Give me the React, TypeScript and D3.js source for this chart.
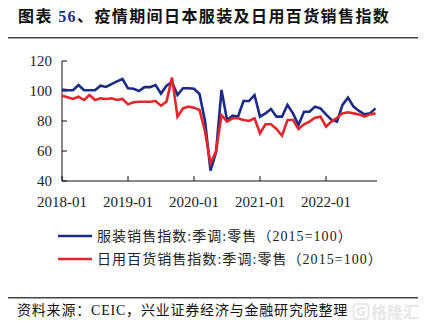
import React from "react";
import * as d3 from "d3";

const months: string[] = (() => {
  const out: string[] = [];
  for (let y = 2018; y <= 2022; y++) {
    for (let m = 1; m <= 12; m++) {
      if (y === 2022 && m > 10) break;
      out.push(`${y}-${String(m).padStart(2, "0")}`);
    }
  }
  return out;
})();

const apparel: number[] = [
  100.9, 100.5, 100.5, 104, 100.5, 100.5, 100.5, 103.5, 102.7, 104.6, 106.4, 108,
  101.8, 101.5, 100, 102.6, 102.6, 104, 98.3, 103.5, 106, 97.3, 101.8, 101.8,
  101.5, 98, 80, 47, 59, 100.7, 80.7, 83.6, 82.9, 93.3, 93.3, 97.3,
  82.9, 85.1, 88, 82.9, 82.9, 90.7, 85.1, 77.3, 86.2, 86.2, 89.6, 88.4,
  84.4, 80.7, 79.6, 90.7, 95.6, 89.6, 86.7, 84.4, 85.1, 88.4,
];

const household: number[] = [
  96.9, 95.8, 94.7, 96.2, 94, 97.3, 94, 95.1, 94.7, 95.1, 94, 94.7,
  91.1, 92.5, 92.8, 92.8, 92.8, 93.3, 90.2, 92.9, 108.9, 82.9, 88.4, 89.6,
  88.9, 87.3, 73, 51.8, 59.6, 84, 79.6, 81.8, 81.8, 80.7, 80, 81.8,
  71.8, 77.8, 77.8, 74.7, 70.2, 80.7, 80.7, 74.7, 77.8, 79.6, 82.2, 82.9,
  76.2, 79.6, 82.2, 85.1, 85.8, 85.1, 84.4, 82.9, 84.4, 85.1,
];

const yTicks: number[] = [40, 60, 80, 100, 120];
const xTickLabels: string[] = ["2018-01", "2019-01", "2020-01", "2021-01", "2022-01"];

const seriesNames: string[] = [
  "服装销售指数:季调:零售（2015=100）",
  "日用百货销售指数:季调:零售（2015=100）",
];
const seriesColors: string[] = ["#1c2b84", "#e3262c"];

const FONT = "'Liberation Serif', 'Noto Sans CJK SC', serif";

export default function App() {
  const x = d3.scaleLinear().domain([0, months.length - 1]).range([62, 375.5]);
  const y = d3.scaleLinear().domain([40, 120]).range([181, 61]);
  const line = d3
    .line<number>()
    .x((_, i) => x(i))
    .y((d) => y(d));

  const series = [apparel, household];

  return (
    <svg
      width={427}
      height={331}
      style={{ position: "absolute", left: 0, top: 0, background: "#fff" }}
      fontFamily={FONT}
    >
      <rect x={0} y={0} width={427} height={331} fill="#fff" />
      {/* Title */}
      <text x={18} y={21.5} fontSize={16} fontWeight="bold" letterSpacing={1.4} fill="#111">
        图表 <tspan fill="#1c2b84">56</tspan>、疫情期间日本服装及日用百货销售指数
      </text>
      <line x1={8} x2={418} y1={37.7} y2={37.7} stroke="#444" strokeWidth={1.4} />

      {/* Axes */}
      <line x1={62} x2={62} y1={61} y2={181} stroke="#111" strokeWidth={1} />
      <line x1={62} x2={377} y1={181} y2={181} stroke="#111" strokeWidth={1} />
      {yTicks.map((t) => (
        <g key={t}>
          <line x1={62} x2={67} y1={y(t)} y2={y(t)} stroke="#111" strokeWidth={1} />
          <text x={52} y={y(t)} dy="0.35em" textAnchor="end" fontSize={15} fill="#222">
            {t}
          </text>
        </g>
      ))}
      {xTickLabels.map((lab) => {
        const i = months.indexOf(lab);
        const px = x(i);
        return (
          <g key={lab}>
            <line x1={px} x2={px} y1={181} y2={176} stroke="#111" strokeWidth={1} />
            <text x={px} y={206.5} textAnchor="middle" fontSize={15} fill="#222">
              {lab}
            </text>
          </g>
        );
      })}

      {/* Lines */}
      {series.map((s, k) => (
        <path
          key={k}
          d={line(s) || ""}
          fill="none"
          stroke={seriesColors[k]}
          strokeWidth={2.6}
          strokeLinejoin="miter"
        />
      ))}

      {/* Legend */}
      {seriesNames.map((name, k) => {
        const ly = k === 0 ? 236 : 259;
        return (
          <g key={name}>
            <line x1={58} x2={92} y1={ly} y2={ly} stroke={seriesColors[k]} strokeWidth={2.6} />
            <text x={97} y={ly + 4.5} fontSize={14} fill="#222" letterSpacing={1.05}>
              {name}
            </text>
          </g>
        );
      })}

      {/* Footer */}
      <line x1={8} x2={418} y1={297.7} y2={297.7} stroke="#444" strokeWidth={1.4} />
      <text x={17} y={315} fontSize={14} fill="#111" letterSpacing={0.8}>
        资料来源：CEIC，兴业证券经济与金融研究院整理
      </text>
      {/* Watermark */}
      <g opacity={0.35}>
        <rect x={353.5} y={304} width={15} height={15} rx={3} fill="none" stroke="#bbb" strokeWidth={2} />
        <text x={361} y={316} textAnchor="middle" fontSize={12} fontWeight="bold" fill="#bbb" fontFamily="'DejaVu Sans', sans-serif">
          G
        </text>
        <text x={371} y={317.5} fontSize={16} fontWeight="bold" fill="#bbb" fontFamily="'Noto Sans CJK SC', sans-serif">
          格隆汇
        </text>
      </g>
    </svg>
  );
}
